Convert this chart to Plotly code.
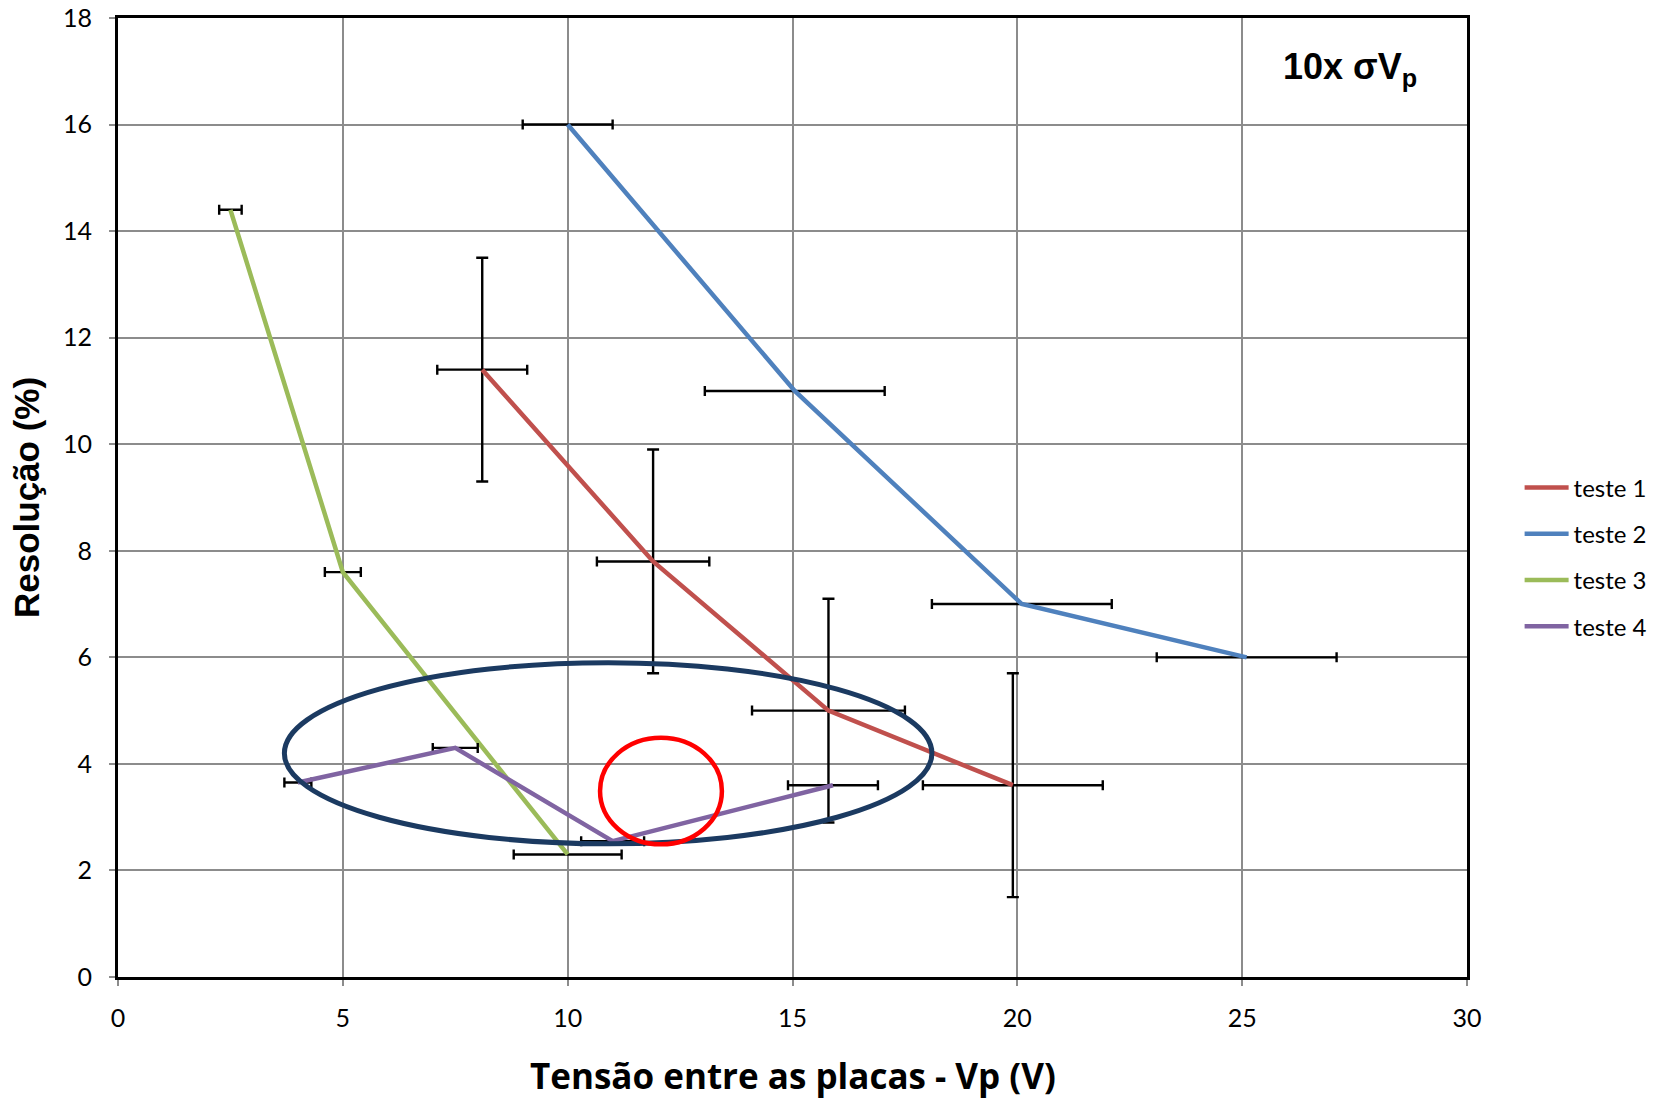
import plotly.graph_objects as go

# Resolution vs plate voltage for four tests
t1_x = [8.1, 11.9, 15.8, 19.9]
t1_y = [11.4, 7.8, 5.0, 3.6]
t1_ex = [1.0, 1.25, 1.7, 2.0]
t1_ey = [2.1, 2.1, 2.1, 2.1]

t2_x = [10.0, 15.05, 20.1, 25.1]
t2_y = [16.0, 11.0, 7.0, 6.0]
t2_ex = [1.0, 2.0, 2.0, 2.0]

t3_x = [2.5, 5.0, 10.0]
t3_y = [14.4, 7.6, 2.3]
t3_ex = [0.25, 0.4, 1.2]

t4_x = [4.0, 7.5, 11.0, 15.9]
t4_y = [3.65, 4.3, 2.55, 3.6]
t4_ex = [0.3, 0.5, 0.7, 1.0]

names = ["teste 1", "teste 2", "teste 3", "teste 4"]
colors = ["#C0504D", "#4F81BD", "#9BBB59", "#8064A2"]

x_ticks = [0, 5, 10, 15, 20, 25, 30]
y_ticks = [0, 2, 4, 6, 8, 10, 12, 14, 16, 18]

# highlighted regions (data coordinates)
big_ellipse = dict(x0=3.7, x1=18.1, y0=2.5, y1=5.9)
red_circle = dict(x0=10.72, x1=13.43, y0=2.49, y1=4.49)

tick_font = dict(family="Lato, Open Sans, sans-serif", size=25, color="#000000")
arial_bold = "Liberation Sans, Arial, sans-serif"

fig = go.Figure()


def err(vals, thick=2.4, width=5):
    return dict(type="data", array=vals, visible=True, color="#000000",
                thickness=thick, width=width)


series = [
    (t1_x, t1_y, t1_ex, t1_ey),
    (t2_x, t2_y, t2_ex, None),
    (t3_x, t3_y, t3_ex, None),
    (t4_x, t4_y, t4_ex, None),
]
for (xs, ys, ex, ey), name, col in zip(series, names, colors):
    fig.add_trace(go.Scatter(
        x=xs, y=ys, mode="lines", name=name, legendgroup=name,
        line=dict(color=col, width=4.5),
        error_x=err(ex),
        error_y=err(ey, width=6) if ey else None,
    ))

fig.add_shape(type="circle", xref="x", yref="y", layer="above",
              line=dict(color="#1B3A61", width=5), **big_ellipse)
fig.add_shape(type="circle", xref="x", yref="y", layer="above",
              line=dict(color="#FF0000", width=4.5), **red_circle)

fig.add_annotation(x=0.913, y=0.947, xref="paper", yref="paper",
                   xanchor="center", yanchor="middle",
                   text="<b>10x σV<sub>p</sub></b>", showarrow=False,
                   font=dict(family=arial_bold, size=36, color="#000000"))

# axis titles
fig.add_annotation(x=-0.0678, y=0.5, xref="paper", yref="paper",
                   xanchor="center", yanchor="middle", textangle=-90,
                   text="<b>Resolução (%)</b>", showarrow=False,
                   font=dict(family=arial_bold, size=35, color="#000000"))
fig.add_annotation(x=0.5, y=-0.103, xref="paper", yref="paper",
                   xanchor="center", yanchor="middle",
                   text="<b>Tensão entre as placas - Vp (V)</b>", showarrow=False,
                   font=dict(family="Open Sans, sans-serif", size=35,
                             color="#000000"))

fig.update_layout(
    width=1662, height=1099,
    margin=dict(l=118, r=195, t=18, b=122, autoexpand=False),
    plot_bgcolor="#FFFFFF", paper_bgcolor="#FFFFFF",
    showlegend=True,
    legend=dict(x=1.039, y=0.438, xanchor="left", yanchor="middle",
                font=dict(family="Lato, Open Sans, sans-serif", size=24,
                          color="#000000"),
                tracegroupgap=12, itemwidth=44, bgcolor="rgba(0,0,0,0)"),
    xaxis=dict(
        range=[0, 30], tickvals=x_ticks, ticktext=[str(v) for v in x_ticks],
        showgrid=True, gridcolor="#8C8C8C", gridwidth=1.6,
        showline=True, linecolor="#000000", linewidth=3, mirror=True,
        ticks="outside", ticklen=6, tickcolor="#8C8C8C", tickwidth=1.6,
        tickfont=tick_font, ticklabelstandoff=11, zeroline=False,
        automargin=False,
    ),
    yaxis=dict(
        range=[0, 18], tickvals=y_ticks, ticktext=[str(v) for v in y_ticks],
        showgrid=True, gridcolor="#8C8C8C", gridwidth=1.6,
        showline=True, linecolor="#000000", linewidth=3, mirror=True,
        ticks="outside", ticklen=6, tickcolor="#8C8C8C", tickwidth=1.6,
        tickfont=tick_font, ticklabelstandoff=12, zeroline=False,
        automargin=False,
    ),
)

fig.write_html("out.html")
